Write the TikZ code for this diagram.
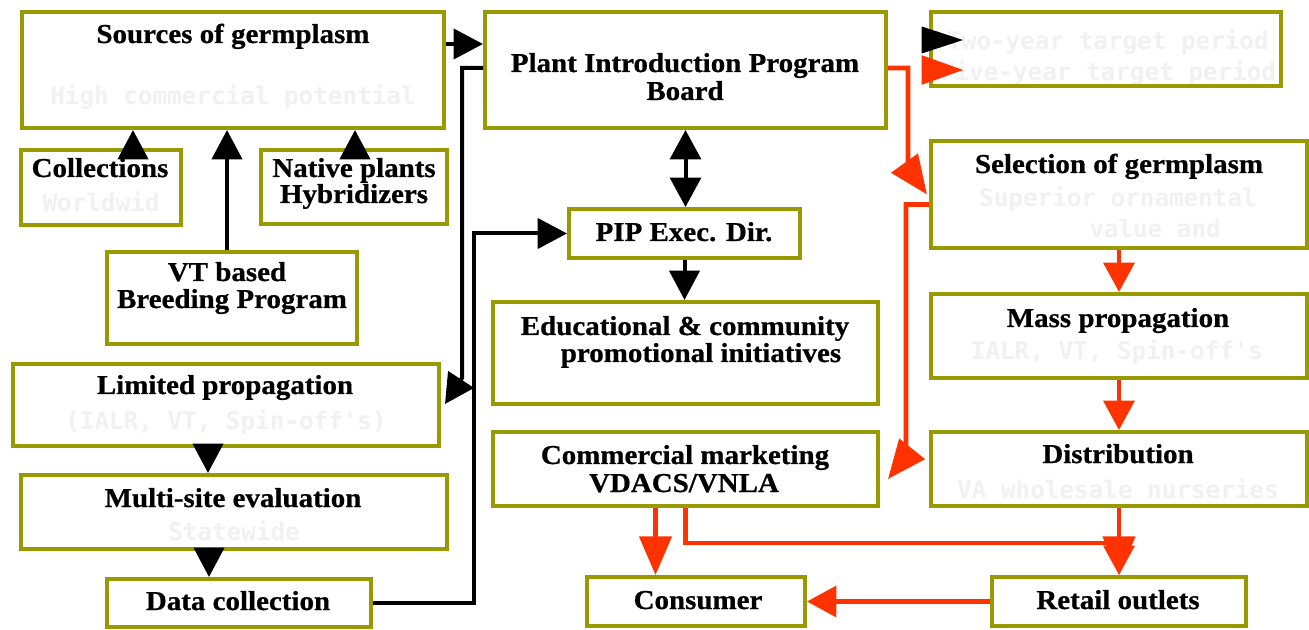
\documentclass[tikz,border=0pt]{standalone}
\usepackage{fontspec}
\setmainfont{Liberation Serif}[BoldFeatures={FakeStretch=1.06,FakeBold=0.7}]
\newfontfamily\pixfam{DejaVu Sans Mono}
\usetikzlibrary{arrows.meta,calc}
\definecolor{olivebd}{HTML}{999900}
\definecolor{redln}{HTML}{FF3300}
\definecolor{faint}{HTML}{F1F1F1}
\newcommand{\ttlfont}{\fontsize{20.5}{20}\selectfont\bfseries}
\newcommand{\pixfont}{\pixfam\fontsize{18.2}{20}\selectfont\bfseries}
\tikzset{
  box/.style={draw=olivebd, line width=3pt, inner sep=0pt},
  bsz/.style 2 args={minimum width={#1*0.75pt-3pt}, minimum height={#2*0.75pt-3pt}},
  ttl/.style={font=\ttlfont, anchor=base, inner sep=0pt},
  fnt/.style={font=\pixfont, text=faint, anchor=base, inner sep=0pt},
  blk/.style={draw=black, line width=3pt, -{Triangle[length=22pt,width=22.5pt]}},
  blk2/.style={draw=black, line width=3pt, {Triangle[length=22pt,width=23pt]}-{Triangle[length=22pt,width=23pt]}},
  rarr/.style={draw=redln, line width=3.4pt, -{Triangle[length=22pt,width=23pt]}},
  rarrL/.style={draw=redln, line width=3.4pt, -{Triangle[length=29pt,width=24pt]}},
}
\begin{document}
\begin{tikzpicture}[x=0.75pt,y=-0.75pt]
\useasboundingbox (0,0) rectangle (1309,630);
\fill[white] (0,0) rectangle (1309,630);

% ---- text ----
\node[ttl] (srcT) at (233,43) {Sources of germplasm};
\node[fnt] (srcF) at (233,105) {High commercial potential};
\node[ttl] (collT) at (100,177) {Collections};
\node[fnt] (collF) at (101,212) {Worldwid};
\node[ttl] (natT1) at (354,177) {Native plants};
\node[ttl] (natT2) at (354,203) {Hybridizers};
\node[ttl] (vtT1) at (227,281) {VT based};
\node[ttl] (vtT2) at (232,308) {Breeding Program};
\node[ttl] (limT) at (225,394) {Limited propagation};
\node[fnt] (limF) at (226,430) {(IALR, VT, Spin-off's)};
\node[ttl] (mulT) at (233,507) {Multi-site evaluation};
\node[fnt] (mulF) at (234,540) {Statewide};
\node[ttl] (datT) at (238,610) {Data collection};
\node[ttl] (pipT1) at (685,72) {Plant Introduction Program};
\node[ttl] (pipT2) at (685,100) {Board};
\node[ttl] (exeT) at (684,241) {PIP Exec. Dir.};
\node[ttl] (eduT1) at (685,335) {Educational \& community};
\node[ttl] (eduT2) at (701,362) {promotional initiatives};
\node[ttl] (comT1) at (685,464) {Commercial marketing};
\node[ttl] (comT2) at (684,492) {VDACS/VNLA};
\node[ttl] (conT) at (698,609) {Consumer};
\node[fnt] (legF1) at (1108,50) {Two-year target period};
\node[fnt] (legF2) at (1108,81) {Five-year target period};
\node[ttl] (selT) at (1119,173) {Selection of germplasm};
\node[fnt] (selF1) at (1118,207) {Superior ornamental};
\node[fnt] (selF2) at (1155,238) {value and};
\node[ttl] (masT) at (1118,327) {Mass propagation};
\node[fnt] (masF) at (1117,360) {IALR, VT, Spin-off's};
\node[ttl] (disT) at (1118,463) {Distribution};
\node[fnt] (disF) at (1118,498) {VA wholesale nurseries};
\node[ttl] (retT) at (1118,609) {Retail outlets};

% ---- boxes ----
\node[box, bsz={426}{120}] (src) at (233,70) {};
\node[box, bsz={164}{79}] (coll) at (101,187.5) {};
\node[box, bsz={190}{78}] (nat) at (354,187) {};
\node[box, bsz={254}{96}] (vt) at (232,298) {};
\node[box, bsz={430}{86}] (lim) at (226,405) {};
\node[box, bsz={430}{78}] (mul) at (234,512) {};
\node[box, bsz={268}{52}] (dat) at (239,603) {};
\node[box, bsz={405}{120}] (pip) at (685.5,70) {};
\node[box, bsz={235}{53}] (exe) at (684.5,233.5) {};
\node[box, bsz={389}{106}] (edu) at (685.5,353) {};
\node[box, bsz={389}{78}] (com) at (685.5,469) {};
\node[box, bsz={222}{53}] (con) at (696,601.5) {};
\node[box, bsz={354}{78}] (leg) at (1106,49) {};
\node[box, bsz={380}{111}] (sel) at (1119,194.5) {};
\node[box, bsz={380}{88}] (mas) at (1119,336) {};
\node[box, bsz={380}{78}] (dis) at (1119,469) {};
\node[box, bsz={258}{53}] (ret) at (1119,601.5) {};

% ---- legend arrows ----
\coordinate (lgA) at ($(leg.west)+(3,-9)$);
\coordinate (lgB) at ($(leg.west)+(3,21)$);
\draw[draw=black, line width=1pt, -{Triangle[length=31pt,width=20pt]}] (lgA) -- ++(31,0);
\draw[draw=redln, line width=1pt, -{Triangle[length=31pt,width=22pt]}] (lgB) -- ++(31,0);

% ---- black connectors ----
\coordinate (c1) at ($(coll.north)+(32,8)$);
\draw[blk] (c1) -- (c1 |- src.south);
\coordinate (c2) at ($(nat.north)+(1,8)$);
\draw[blk] (c2) -- (c2 |- src.south);
\coordinate (c3) at ($(vt.north)+(-5,0)$);
\draw[blk] (c3) -- (c3 |- src.south);
\coordinate (c4) at ($(src.east)+(0,-26)$);
\draw[blk] (c4) -- (c4 -| pip.west);
\draw[blk] ($(pip.west)+(0,-2)$) -- ++(-21,0) -- ++(0,310) -- ($(lim.east)+(4,-1)$);
\draw[blk] (dat.east) -- ++(101,0) |- (exe.west);
\draw[blk2] (pip.south) -- (pip.south |- exe.north);
\draw[blk] (exe.south) -- (exe.south |- edu.north);
\coordinate (c5) at ($(lim.south)+(-18,0)$);
\draw[blk] (c5) -- (c5 |- mul.north);
\coordinate (c6) at ($(mul.south)+(-25,0)$);
\draw[blk] (c6) -- (c6 |- dat.north);

% ---- red connectors ----
\draw[rarrL] ($(pip.east)+(0,-2)$) -- ++(20,0) -- ++(0,100) -- ($(sel.west)+(-2,0)$);
\draw[rarrL] ($(sel.west)+(0,10)$) -- ++(-23,0) -- ++(0,252) -- ($(com.east)+(8,10)$);
\draw[rarr] (sel.south) -- (sel.south |- mas.north);
\draw[rarr] (mas.south) -- (mas.south |- dis.north);
\draw[rarr] (dis.south) -- (dis.south |- ret.north);
\coordinate (c7) at ($(com.south)+(-30,0)$);
\draw[rarrL] (c7) -- (c7 |- con.north);
\draw[rarrL] (com.south) -- ++(0,35) -| (ret.north);
\draw[rarr] (ret.west) -- (con.east);
\end{tikzpicture}
\end{document}
